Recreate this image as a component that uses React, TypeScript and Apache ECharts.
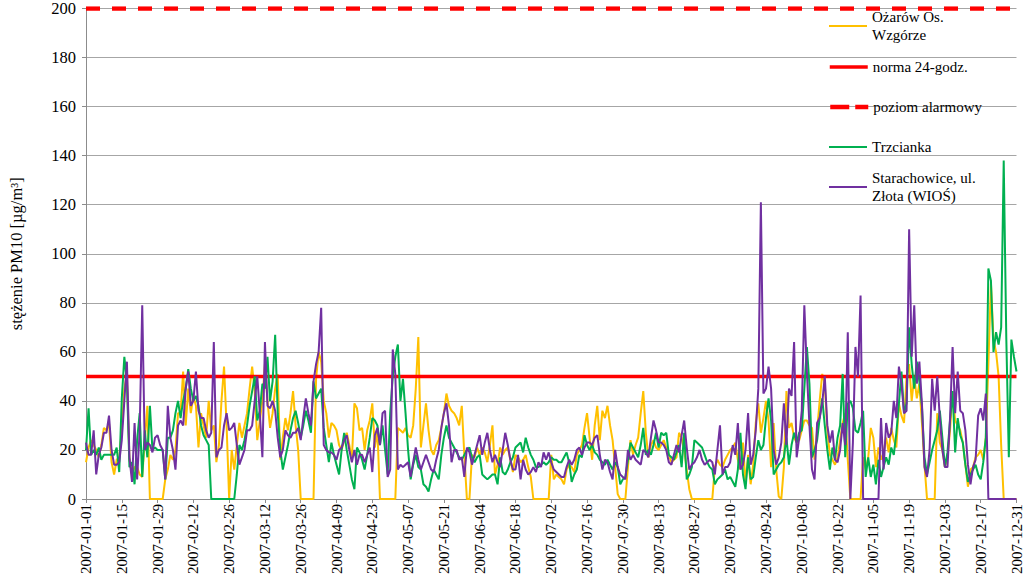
import React, { useEffect, useRef } from "react";
import * as echarts from "echarts";

// 365 daily categories of 2007
const categories: string[] = (() => {
  const out: string[] = [];
  const start = Date.UTC(2007, 0, 1);
  for (let i = 0; i < 365; i++) {
    const d = new Date(start + i * 86400000);
    const m = String(d.getUTCMonth() + 1).padStart(2, "0");
    const day = String(d.getUTCDate()).padStart(2, "0");
    out.push(`2007-${m}-${day}`);
  }
  return out;
})();

const seriesNames = [
  "Ożarów Os. Wzgórze",
  "norma 24-godz.",
  "poziom alarmowy",
  "Trzcianka",
  "Starachowice, ul. Złota (WIOŚ)",
];
const legendLabels = [
  "Ożarów Os.\nWzgórze",
  "norma 24-godz.",
  "poziom alarmowy",
  "Trzcianka",
  "Starachowice, ul.\nZłota (WIOŚ)",
];

const normaLevel = 50;
const alarmLevel = 200;
const yMin = 0;
const yMax = 200;
const yStep = 20;
const yAxisTitle = "stężenie PM10 [µg/m³]";

// Ożarów Os. Wzgórze
const ozarow: number[] = [
  15, 21, 24, 22, 20, 17, 22, 29, 28, 31,
  15, 10, 16, 17, 28, 45, 51, 16, 10, 13,
  13, 10, 9, 24, 38, 0, 0, 0, 0, 0,
  0, 8, 12, 18, 16, 20, 35, 35, 52, 30,
  45, 35, 42, 38, 21, 35, 30, 25, 40, 28,
  30, 15, 22, 40, 54, 30, 0, 20, 12, 22,
  31, 25, 30, 35, 45, 54, 44, 24, 32, 40,
  55, 40, 29, 35, 45, 51, 16, 25, 33, 28,
  35, 44, 30, 20, 0, 0, 0, 0, 0, 0,
  49, 60, 56, 40, 35, 25, 31, 30, 28, 22,
  20, 24, 27, 22, 16, 39, 37, 28, 29, 20,
  28, 32, 39, 21, 28, 0, 0, 0, 0, 0,
  0, 0, 29, 28, 27, 29, 26, 25, 30, 45,
  66, 21, 30, 39, 28, 20, 18, 22, 24, 29,
  35, 43, 38, 36, 35, 33, 30, 38, 18, 0,
  0, 18, 17, 21, 18, 21, 19, 15, 22, 30,
  10, 14, 21, 18, 20, 21, 16, 11, 18, 17,
  15, 16, 18, 13, 9, 0, 0, 0, 0, 0,
  0, 0, 18, 8, 10, 9, 8, 6, 12, 14,
  13, 11, 18, 20, 22, 29, 35, 25, 16, 30,
  38, 24, 36, 33, 38, 30, 24, 13, 2, 0,
  0, 0, 13, 24, 18, 22, 25, 35, 44, 27,
  17, 22, 24, 21, 20, 22, 24, 21, 18, 15,
  16, 17, 27, 25, 20, 12, 4, 0, 0, 0,
  0, 0, 0, 0, 0, 0, 13, 16, 14, 13,
  16, 18, 20, 21, 23, 16, 12, 23, 6, 18,
  6, 14, 31, 39, 27, 33, 40, 32, 13, 31,
  12, 1, 0, 13, 44, 29, 31, 25, 23, 24,
  28, 32, 32, 30, 29, 16, 28, 40, 51, 47,
  28, 18, 16, 14, 17, 24, 31, 35, 16, 0,
  0, 0, 0, 0, 17, 12, 17, 29, 25, 13,
  21, 16, 19, 25, 19, 29, 24, 21, 39, 34,
  31, 50, 55, 40, 50, 41, 47, 31, 14, 0,
  0, 0, 0, 35, 23, 20, 13, 17, 28, 44,
  32, 30, 28, 23, 14, 5, 12, 13, 17, 18,
  20, 16, 25, 55, 88, 65, 60, 50, 22, 0,
  0, 0, 0, 0, 0,
];

// Trzcianka
const trzcianka: number[] = [
  20, 37, 18, 20, 18, 21, 16, 18, 18, 18,
  18, 18, 21, 11, 41, 58, 48, 13, 15, 6,
  24, 35, 9, 28, 17, 38, 20, 21, 20, 20,
  20, 8, 25, 25, 28, 35, 40, 33, 40, 45,
  53, 45, 40, 42, 38, 30, 26, 24, 22, 0,
  0, 0, 0, 0, 0, 0, 0, 0, 0, 10,
  22, 20, 24, 30, 38, 44, 50, 32, 36, 47,
  45, 58, 40, 48, 67, 35, 20, 12, 17, 22,
  28, 33, 36, 31, 25, 30, 36, 32, 27, 48,
  41, 43, 45, 29, 22, 15, 23, 18, 14, 10,
  20, 27, 20, 14, 8, 4, 21, 19, 16, 12,
  18, 25, 33, 32, 30, 22, 30, 20, 10, 35,
  50, 58, 63, 40, 49, 35, 20, 8, 14, 18,
  13, 12, 6, 5, 3, 8, 12, 10, 8, 18,
  25, 30, 25, 23, 21, 19, 17, 16, 18, 20,
  21, 17, 15, 17, 18, 10, 9, 8, 9, 10,
  10, 6, 17, 11, 10, 12, 15, 17, 21, 22,
  23, 19, 25, 21, 18, 16, 13, 13, 14, 15,
  14, 15, 17, 16, 16, 15, 15, 17, 19, 15,
  7, 10, 12, 18, 17, 26, 22, 20, 22, 19,
  18, 16, 15, 14, 16, 14, 12, 15, 13, 6,
  8, 9, 16, 23, 21, 19, 17, 22, 29, 18,
  20, 18, 22, 27, 21, 27, 26, 27, 18, 17,
  16, 19, 22, 13, 27, 8, 10, 13, 24, 23,
  22, 21, 18, 15, 13, 12, 6, 8, 9, 10,
  12, 8, 9, 7, 5, 12, 27, 10, 4, 17,
  8, 9, 17, 24, 20, 22, 33, 41, 32, 10,
  12, 14, 15, 17, 25, 14, 22, 27, 23, 27,
  28, 45, 62, 47, 17, 20, 24, 33, 41, 30,
  20, 12, 21, 16, 25, 30, 51, 17, 39, 40,
  37, 28, 27, 31, 36, 9, 17, 9, 14, 6,
  16, 9, 13, 17, 14, 21, 18, 27, 39, 52,
  35, 39, 70, 55, 45, 56, 48, 38, 17, 10,
  15, 20, 24, 28, 36, 25, 13, 19, 32, 44,
  19, 33, 26, 23, 14, 7, 10, 12, 14, 10,
  8, 15, 25, 94, 89, 60, 68, 63, 70, 138,
  66, 17, 65, 58, 52,
];

// Starachowice, ul. Złota (WIOŚ)
const starachowice: number[] = [
  23, 18, 18, 28, 10, 18, 21, 27, 27, 34,
  20, 14, 14, 15, 24, 40, 56, 17, 7, 31,
  8, 28, 79, 20, 23, 22, 19, 25, 26, 22,
  20, 8, 38, 25, 20, 12, 30, 32, 30, 45,
  52, 38, 40, 52, 36, 33, 33, 28, 25, 27,
  64, 17, 20, 21, 30, 35, 28, 29, 31, 22,
  14, 17, 20, 28, 28, 30, 40, 50, 35, 17,
  64, 38, 37, 40, 36, 25, 17, 20, 28, 26,
  25, 27, 27, 29, 24, 33, 41, 35, 30, 48,
  55, 60, 78, 22, 20, 19, 19, 18, 16, 20,
  21, 24, 26, 20, 15, 20, 14, 18, 18, 15,
  18, 21, 11, 26, 29, 22, 35, 36, 9, 12,
  61, 51, 12, 14, 13, 14, 15, 9, 15, 21,
  16, 12, 15, 18, 15, 12, 11, 16, 20, 29,
  35, 39, 30, 15, 20, 20, 16, 17, 9, 21,
  19, 14, 18, 22, 26, 18, 23, 27, 20, 15,
  18, 15, 13, 20, 27, 22, 16, 12, 12, 18,
  8, 16, 12, 10, 11, 13, 11, 15, 13, 19,
  16, 19, 15, 12, 11, 10, 9, 9, 13, 16,
  14, 16, 20, 21, 18, 21, 23, 23, 22, 25,
  26, 18, 12, 16, 15, 11, 8, 20, 13, 10,
  9, 8, 20, 16, 18, 16, 15, 14, 20, 19,
  17, 25, 32, 28, 23, 23, 22, 20, 15, 14,
  18, 22, 19, 26, 32, 21, 12, 14, 15, 17,
  20, 16, 14, 15, 16, 15, 10, 20, 30, 10,
  13, 13, 15, 22, 18, 31, 12, 14, 20, 35,
  14, 18, 28, 45, 121, 43, 45, 54, 45, 20,
  14, 17, 23, 39, 22, 45, 42, 64, 17, 25,
  36, 79, 52, 30, 12, 8, 31, 33, 39, 50,
  30, 23, 28, 16, 15, 20, 31, 22, 68, 0,
  23, 62, 50, 83, 0, 0, 0, 0, 0, 0,
  0, 33, 12, 31, 25, 27, 40, 33, 54, 47,
  35, 36, 110, 58, 79, 47, 56, 39, 13, 9,
  20, 49, 36, 50, 33, 20, 13, 13, 33, 62,
  35, 52, 36, 35, 28, 14, 6, 13, 16, 34,
  37, 32, 43, 0, 0, 0, 0, 0, 0, 0,
  0, 0, 0, 0, 0,
];

const SERIF = "'Liberation Serif', 'Times New Roman', serif";

const seriesColors = ["#ffc000", "#ff0000", "#ff0000", "#00b050", "#7030a0"];
const seriesWidths = [2, 3.5, 4.5, 2, 2];

export default function App() {
  const ref = useRef<HTMLDivElement>(null);

  useEffect(() => {
    if (!ref.current) return;
    const chart = echarts.init(ref.current, undefined, { renderer: "svg" });

    const textBase = {
      fontFamily: SERIF,
      fontSize: 15,
      color: "#000",
      lineHeight: 18,
    };
    const legendTops = [-1, 58, 98, 138, 160];
    const legends = seriesNames.map((name, i) => {
      const twoLine = legendLabels[i].includes("\n");
      return {
        orient: "vertical",
        left: 828,
        top: legendTops[i],
        padding: 0,
        itemWidth: 38,
        itemHeight: 14,
        itemGap: 0,
        selectedMode: false,
        data: [name],
        formatter: () => legendLabels[i],
        itemStyle: {
          opacity: 0,
          color: "rgba(0,0,0,0)",
          borderWidth: 0,
          borderColor: "rgba(0,0,0,0)",
        },
        lineStyle: {
          color: seriesColors[i],
          width: seriesWidths[i],
          type: i === 2 ? [19, 6] : "solid",
          opacity: 1,
        },
        textStyle: { ...textBase, padding: twoLine ? [18, 0, 0, 0] : 0 },
      };
    });

    const normaData = categories.map(() => normaLevel);
    const alarmData = categories.map(() => alarmLevel);

    chart.setOption({
      animation: false,
      backgroundColor: "#fff",
      grid: { left: 72, right: 6, top: 5, bottom: 79, containLabel: false },
      legend: legends,
      xAxis: {
        type: "category",
        data: categories,
        boundaryGap: false,
        axisLine: { show: true, lineStyle: { color: "#8c8c8c", width: 1 } },
        axisTick: {
          show: true,
          interval: 13,
          length: 4,
          lineStyle: { color: "#8c8c8c" },
        },
        axisLabel: {
          interval: 13,
          rotate: 90,
          margin: 5,
          fontFamily: SERIF,
          fontSize: 15,
          color: "#000",
        },
        splitLine: { show: false },
      },
      yAxis: {
        type: "value",
        min: yMin,
        max: yMax,
        interval: yStep,
        name: yAxisTitle,
        nameLocation: "middle",
        nameGap: 61,
        nameTextStyle: { fontFamily: SERIF, fontSize: 16.5, color: "#000" },
        axisLine: { show: true, lineStyle: { color: "#8c8c8c", width: 1 } },
        axisTick: { show: true, length: 4, lineStyle: { color: "#8c8c8c" } },
        axisLabel: {
          margin: 10,
          fontFamily: SERIF,
          fontSize: 16.5,
          color: "#000",
        },
        splitLine: { show: true, lineStyle: { color: "#a6a6a6", width: 1 } },
      },
      series: [
        {
          name: seriesNames[0],
          type: "line",
          data: ozarow,
          showSymbol: false,
          symbol: "none",
          lineStyle: { color: seriesColors[0], width: seriesWidths[0] },
          itemStyle: { color: seriesColors[0] },
        },
        {
          name: seriesNames[1],
          type: "line",
          data: normaData,
          showSymbol: false,
          symbol: "none",
          lineStyle: { color: seriesColors[1], width: seriesWidths[1] },
          itemStyle: { color: seriesColors[1] },
        },
        {
          name: seriesNames[2],
          type: "line",
          data: alarmData,
          showSymbol: false,
          symbol: "none",
          lineStyle: { color: seriesColors[2], width: seriesWidths[2], type: [14, 12] },
          itemStyle: { color: seriesColors[2] },
        },
        {
          name: seriesNames[3],
          type: "line",
          data: trzcianka,
          showSymbol: false,
          symbol: "none",
          lineStyle: { color: seriesColors[3], width: seriesWidths[3] },
          itemStyle: { color: seriesColors[3] },
        },
        {
          name: seriesNames[4],
          type: "line",
          data: starachowice,
          showSymbol: false,
          symbol: "none",
          lineStyle: { color: seriesColors[4], width: seriesWidths[4] },
          itemStyle: { color: seriesColors[4] },
        },
      ],
    });

    return () => chart.dispose();
  }, []);

  return (
    <div
      ref={ref}
      style={{ position: "absolute", left: 0, top: 0, width: 1024, height: 578 }}
    />
  );
}
